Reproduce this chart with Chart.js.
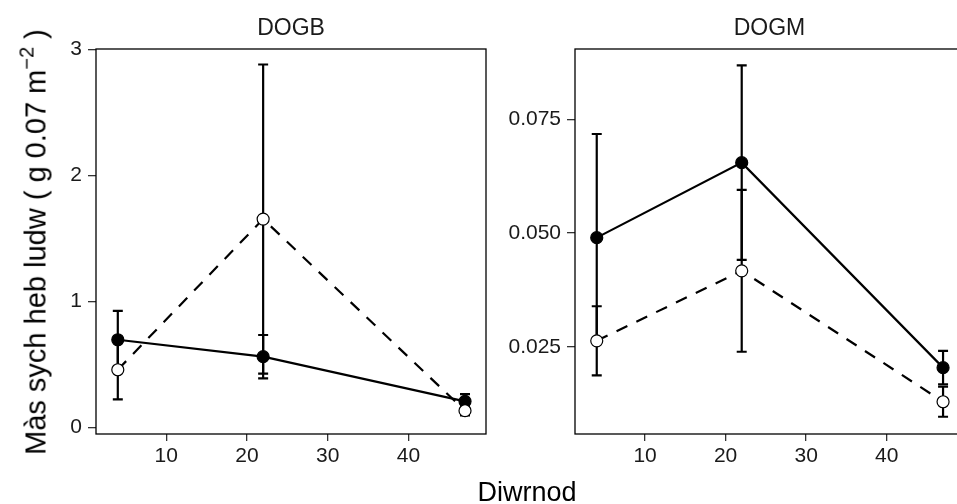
<!DOCTYPE html>
<html>
<head>
<meta charset="utf-8">
<script src="https://cdn.jsdelivr.net/npm/chart.js@4/dist/chart.umd.min.js"></script>
<style>
  html, body { margin: 0; padding: 0; background: #fff; overflow: hidden; }
  #wrap { position: relative; width: 957px; height: 504px; overflow: hidden; font-family: "Liberation Sans", Arial, sans-serif; color: #000; }
  canvas { position: absolute; top: 0; }
  #dogb { left: 30px; }
  #dogm { left: 490px; }
  #ytitle { position: absolute; left: 36px; top: 242px; transform: translate(-50%, -50%) rotate(-90deg); white-space: nowrap; font-size: 29px; color: #000; }
  #ytitle sup { font-size: 20px; vertical-align: 12px; line-height: 0; }
  #xtitle { position: absolute; left: 527px; top: 492px; transform: translate(-50%, -50%); font-size: 27px; color: #000; }
</style>
</head>
<body>
<div id="wrap">
  <canvas id="dogb" width="470" height="504"></canvas>
  <canvas id="dogm" width="490" height="504"></canvas>
  <div id="ytitle">Màs sych heb ludw ( g 0.07 m<sup>−2</sup> )</div>
  <div id="xtitle">Diwrnod</div>
</div>
<script>
// sampling days
var days = [4, 22, 47];
var dayTicks = [10, 20, 30, 40];

// DOGB: means and standard errors
var dogbFilled = [0.695, 0.561, 0.206];
var dogbFilledErr = [0.230, 0.172, 0.058];
var dogbOpen = [0.457, 1.653, 0.132];
var dogbOpenErr = [0.235, 1.227, 0.038];
var dogbTicks = [0, 1, 2, 3];

// DOGM: means and standard errors
var dogmFilled = [0.0490, 0.0655, 0.0204];
var dogmFilledErr = [0.0228, 0.0214, 0.0037];
var dogmOpen = [0.0263, 0.0417, 0.0129];
var dogmOpenErr = [0.0076, 0.0178, 0.0033];
var dogmTicks = [0.025, 0.050, 0.075];

var FONT = '"Liberation Sans", Arial, sans-serif';

function toPoints(ys) {
    return ys.map(function (y, i) { return { x: days[i], y: y }; });
}

// vertical error bars with caps, drawn under the lines
var errorBars = {
    id: 'errorBars',
    beforeDatasetsDraw: function (chart) {
        var ctx = chart.ctx;
        var xs = chart.scales.x, ys = chart.scales.y;
        ctx.save();
        ctx.strokeStyle = '#000';
        ctx.lineWidth = 2.2;
        ctx.setLineDash([]);
        chart.data.datasets.forEach(function (ds) {
            ds.data.forEach(function (p, i) {
                var e = ds.errors[i];
                var px = xs.getPixelForValue(p.x);
                var top = ys.getPixelForValue(p.y + e);
                var bot = ys.getPixelForValue(p.y - e);
                ctx.beginPath();
                ctx.moveTo(px, top); ctx.lineTo(px, bot);
                ctx.moveTo(px - 5, top); ctx.lineTo(px + 5, top);
                ctx.moveTo(px - 5, bot); ctx.lineTo(px + 5, bot);
                ctx.stroke();
            });
        });
        ctx.restore();
    }
};

// panel border and strip title
var panelFrame = {
    id: 'panelFrame',
    afterDraw: function (chart, args, opts) {
        var ctx = chart.ctx, a = chart.chartArea;
        ctx.save();
        ctx.strokeStyle = '#000';
        ctx.lineWidth = 1.3;
        ctx.strokeRect(a.left, a.top, a.right - a.left, a.bottom - a.top);
        ctx.fillStyle = '#1a1a1a';
        ctx.font = '23px ' + FONT;
        ctx.textAlign = 'center';
        ctx.textBaseline = 'alphabetic';
        ctx.fillText(opts.text, (a.left + a.right) / 2, 35);
        ctx.restore();
    }
};

function makePanel(id, title, filled, filledErr, open, openErr, yTicks, yMin, yMax, yWidth, padRight, fmt) {
    var ctx = document.getElementById(id).getContext('2d');
    return new Chart(ctx, {
        type: 'line',
        data: {
            datasets: [{
                label: 'open',
                data: toPoints(open),
                errors: openErr,
                borderColor: '#000',
                borderWidth: 2.2,
                borderDash: [12, 10],
                tension: 0,
                pointRadius: 6,
                pointBorderWidth: 1.2,
                pointBackgroundColor: '#fff',
                pointBorderColor: '#000'
            }, {
                label: 'filled',
                data: toPoints(filled),
                errors: filledErr,
                borderColor: '#000',
                borderWidth: 2.2,
                tension: 0,
                pointRadius: 6,
                pointBorderWidth: 1.2,
                pointBackgroundColor: '#000',
                pointBorderColor: '#000'
            }]
        },
        options: {
            responsive: false,
            animation: false,
            events: [],
            layout: { padding: { top: 49, right: padRight, left: 0, bottom: 0 } },
            plugins: {
                legend: { display: false },
                tooltip: { enabled: false },
                panelFrame: { text: title }
            },
            scales: {
                x: {
                    type: 'linear',
                    min: 1.3,
                    max: 49.6,
                    afterBuildTicks: function (s) { s.ticks = dayTicks.map(function (v) { return { value: v }; }); },
                    afterFit: function (s) { s.height = 70; },
                    grid: { drawOnChartArea: false, drawTicks: true, tickLength: 7, color: '#333', lineWidth: 1.3 },
                    border: { display: false },
                    ticks: { color: '#1a1a1a', font: { family: FONT, size: 21 }, padding: 3, maxRotation: 0 }
                },
                y: {
                    type: 'linear',
                    min: yMin,
                    max: yMax,
                    afterBuildTicks: function (s) { s.ticks = yTicks.map(function (v) { return { value: v }; }); },
                    afterFit: function (s) { s.width = yWidth; },
                    grid: { drawOnChartArea: false, drawTicks: true, tickLength: 8, color: '#333', lineWidth: 1.3 },
                    border: { display: false },
                    ticks: { color: '#1a1a1a', font: { family: FONT, size: 21 }, padding: 6, callback: fmt }
                }
            }
        },
        plugins: [errorBars, panelFrame]
    });
}

makePanel('dogb', 'DOGB', dogbFilled, dogbFilledErr, dogbOpen, dogbOpenErr,
    dogbTicks, -0.053, 3.003, 66, 14, function (v) { return String(v); });

makePanel('dogm', 'DOGM', dogmFilled, dogmFilledErr, dogmOpen, dogmOpenErr,
    dogmTicks, 0.0058, 0.0905, 85, 16, function (v) { return v.toFixed(3); });
</script>
</body>
</html>
